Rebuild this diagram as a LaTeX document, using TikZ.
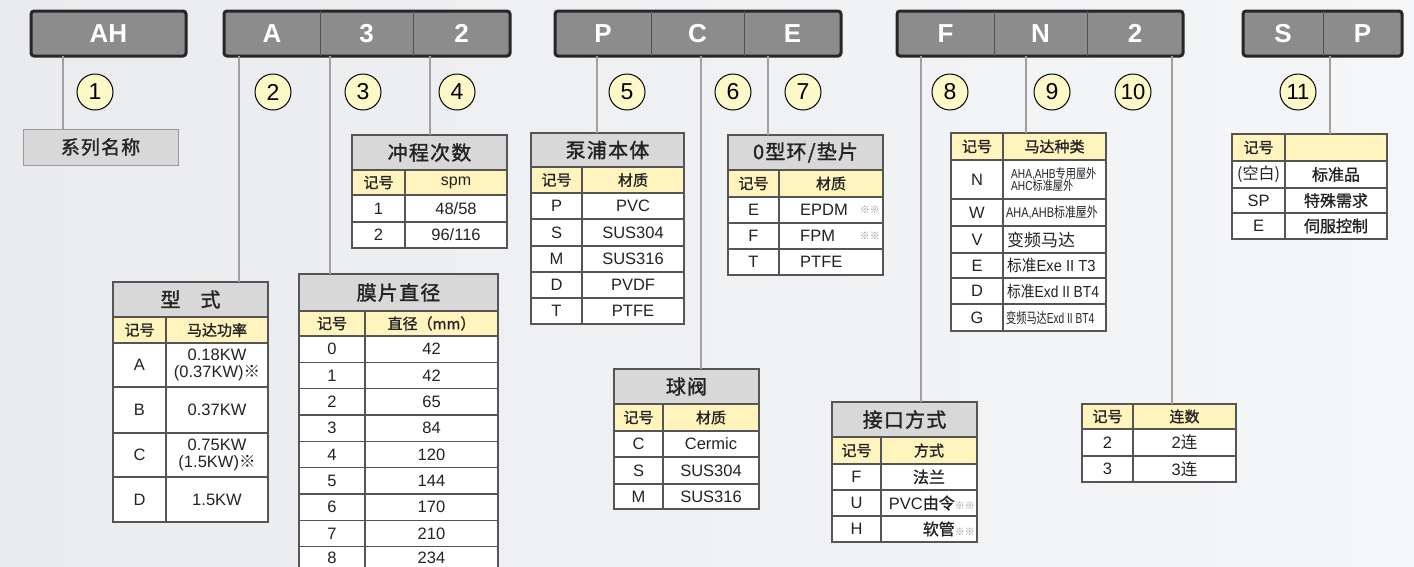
\documentclass[tikz,border=0pt]{standalone}
\usepackage{fontspec}
\setmainfont{Liberation Sans}
\newfontfamily\cjk{Noto Sans CJK SC}
\newfontfamily\cjkm[FakeBold=1.2]{Noto Sans CJK SC}
\newfontfamily\cjkt[FakeBold=1.4,LetterSpace=6]{Noto Sans CJK SC}
\usetikzlibrary{calc}
\definecolor{hbfill}{RGB}{140,140,140}
\definecolor{hbline}{RGB}{38,38,38}
\definecolor{tgray}{RGB}{216,216,216}
\definecolor{hyel}{RGB}{255,244,190}
\definecolor{tline}{RGB}{85,85,85}
\definecolor{connc}{RGB}{160,160,160}
\definecolor{circc}{RGB}{252,248,200}
\definecolor{bgA}{RGB}{233,235,238}
\definecolor{bgB}{RGB}{245,246,248}
\definecolor{txt}{RGB}{35,35,35}
\definecolor{starc}{RGB}{150,150,150}
\newcommand\tcell[7]{\node[#6,minimum width={#4-#2},minimum height={#5-#3}] (#1) at ({(#2+#4)/2},{(#3+#5)/2}) {#7};}
\newcommand\fs[1]{\fontsize{#1}{#1}\selectfont}
\tikzset{
  hbox/.style={draw=hbline,line width=3pt,fill=hbfill,rounded corners=3pt,inner sep=0pt,outer sep=0pt},
  hseg/.style={inner sep=0pt,outer sep=0pt,text=white,font=\fs{26}\bfseries},
  hdiv/.style={draw=hbline!80,line width=0.8pt},
  connl/.style={draw=connc,line width=1.5pt},
  numc/.style={circle,draw=black,line width=1pt,fill=circc,minimum size=36pt,inner sep=0pt,font=\fs{23}},
  sbox/.style={draw=black!40,line width=1pt,fill=tgray,inner sep=0pt,outer sep=0pt,font=\cjkt\fs{19},text=txt},
  tt/.style={draw=tline,line width=1.3pt,fill=tgray,inner sep=0pt,outer sep=0pt,font=\cjkt\fs{20},text=txt},
  hd/.style={draw=tline,line width=1.3pt,fill=hyel,inner sep=0pt,outer sep=0pt,font=\cjkm\fs{15},text=txt},
  bd/.style={draw=tline,line width=1.3pt,fill=white,inner sep=0pt,outer sep=0pt,font=\fs{16.5},text=txt,align=center},
  lt/.style={anchor=west,inner sep=0pt,font=\fs{16.5},text=txt},
  stars/.style={inner sep=0pt,font=\cjk\fs{10},text=starc},
}
\begin{document}
\begin{tikzpicture}[x=1pt,y=-1pt]
\clip (0,0) rectangle (1414,566);
\shade[left color=bgA,right color=bgB] (0,0) rectangle (1414,566);

% ---------- header boxes ----------
\tcell{hb1}{31}{11}{186}{56}{hbox}{}
\tcell{h1a}{31}{11}{186}{56}{hseg}{AH}

\tcell{hb2}{224}{11}{510}{56}{hbox}{}
\tcell{h2a}{224}{11}{320}{56}{hseg}{A}
\tcell{h2b}{320}{11}{413}{56}{hseg}{3}
\tcell{h2c}{413}{11}{510}{56}{hseg}{2}
\draw[hdiv] (h2a.north east) -- (h2a.south east);
\draw[hdiv] (h2b.north east) -- (h2b.south east);

\tcell{hb3}{555}{11}{841}{56}{hbox}{}
\tcell{h3a}{555}{11}{651}{56}{hseg}{P}
\tcell{h3b}{651}{11}{744}{56}{hseg}{C}
\tcell{h3c}{744}{11}{841}{56}{hseg}{E}
\draw[hdiv] (h3a.north east) -- (h3a.south east);
\draw[hdiv] (h3b.north east) -- (h3b.south east);

\tcell{hb4}{897}{11}{1183}{56}{hbox}{}
\tcell{h4a}{897}{11}{994}{56}{hseg}{F}
\tcell{h4b}{994}{11}{1087}{56}{hseg}{N}
\tcell{h4c}{1087}{11}{1183}{56}{hseg}{2}
\draw[hdiv] (h4a.north east) -- (h4a.south east);
\draw[hdiv] (h4b.north east) -- (h4b.south east);

\tcell{hb5}{1243}{11}{1402}{56}{hbox}{}
\tcell{h5a}{1243}{11}{1323}{56}{hseg}{S}
\tcell{h5b}{1323}{11}{1402}{56}{hseg}{P}
\draw[hdiv] (h5a.north east) -- (h5a.south east);

% ---------- number circles ----------
\node[numc] (n1) at (95,92) {1};
\node[numc] (n2) at (273,92) {2};
\node[numc] (n3) at (363,92) {3};
\node[numc] (n4) at (457,92) {4};
\node[numc] (n5) at (627,92) {5};
\node[numc] (n6) at (733,92) {6};
\node[numc] (n7) at (803,92) {7};
\node[numc] (n8) at (950,92) {8};
\node[numc] (n9) at (1052,92) {9};
\node[numc,font=\fs{22}] (n10) at (1133,92) {10};
\node[numc,font=\fs{22}] (n11) at (1298,92) {11};

% ---------- 1 系列名称 ----------
\tcell{t1}{23}{129}{178}{165}{sbox}{系列名称}

% ---------- 4 冲程次数 ----------
\tcell{t4t}{352}{135}{507}{170}{tt}{冲程次数}
\tcell{t4ha}{352}{170}{405}{195}{hd}{记号}
\tcell{t4hb}{405}{170}{507}{195}{hd}{\fontspec{Liberation Sans}\fs{16}spm}
\tcell{t4a1}{352}{195}{405}{222}{bd}{1}
\tcell{t4b1}{405}{195}{507}{222}{bd}{48/58}
\tcell{t4a2}{352}{222}{405}{248}{bd}{2}
\tcell{t4b2}{405}{222}{507}{248}{bd}{96/116}

% ---------- 5 泵浦本体 ----------
\tcell{t5t}{531}{133}{684}{167}{tt}{泵浦本体}
\tcell{t5ha}{531}{167}{582}{193}{hd}{记号}
\tcell{t5hb}{582}{167}{684}{193}{hd}{材质}
\tcell{t5a1}{531}{193}{582}{219}{bd}{P}
\tcell{t5b1}{582}{193}{684}{219}{bd}{PVC}
\tcell{t5a2}{531}{219}{582}{246}{bd}{S}
\tcell{t5b2}{582}{219}{684}{246}{bd}{SUS304}
\tcell{t5a3}{531}{246}{582}{272}{bd}{M}
\tcell{t5b3}{582}{246}{684}{272}{bd}{SUS316}
\tcell{t5a4}{531}{272}{582}{298}{bd}{D}
\tcell{t5b4}{582}{272}{684}{298}{bd}{PVDF}
\tcell{t5a5}{531}{298}{582}{324}{bd}{T}
\tcell{t5b5}{582}{298}{684}{324}{bd}{PTFE}

% ---------- 7 0型环/垫片 ----------
\tcell{t7t}{728}{135}{883}{170}{tt}{0型环/垫片}
\tcell{t7ha}{728}{170}{779}{197}{hd}{记号}
\tcell{t7hb}{779}{170}{883}{197}{hd}{材质}
\tcell{t7a1}{728}{197}{779}{223}{bd}{E}
\tcell{t7b1}{779}{197}{883}{223}{bd}{}
\tcell{t7a2}{728}{223}{779}{249}{bd}{F}
\tcell{t7b2}{779}{223}{883}{249}{bd}{}
\tcell{t7a3}{728}{249}{779}{275}{bd}{T}
\tcell{t7b3}{779}{249}{883}{275}{bd}{}
\node[lt] (t7x1) at ([xshift=21pt]t7b1.west) {EPDM};
\node[lt] (t7x2) at ([xshift=21pt]t7b2.west) {FPM};
\node[lt] (t7x3) at ([xshift=21pt]t7b3.west) {PTFE};
\node[stars,anchor=east] (t7s1) at ([xshift=-3pt]t7b1.east) {※※};
\node[stars,anchor=east] (t7s2) at ([xshift=-3pt]t7b2.east) {※※};

% ---------- 9 马达种类 ----------
\tcell{t9ha}{951}{133}{1003}{160}{hd}{记号}
\tcell{t9hb}{1003}{133}{1106}{160}{hd}{马达种类}
\tcell{t9a1}{951}{160}{1003}{199}{bd}{N}
\tcell{t9b1}{1003}{160}{1106}{199}{bd}{}
\tcell{t9a2}{951}{199}{1003}{226}{bd}{W}
\tcell{t9b2}{1003}{199}{1106}{226}{bd}{}
\tcell{t9a3}{951}{226}{1003}{253}{bd}{V}
\tcell{t9b3}{1003}{226}{1106}{253}{bd}{}
\tcell{t9a4}{951}{253}{1003}{278}{bd}{E}
\tcell{t9b4}{1003}{253}{1106}{278}{bd}{}
\tcell{t9a5}{951}{278}{1003}{304}{bd}{D}
\tcell{t9b5}{1003}{278}{1106}{304}{bd}{}
\tcell{t9a6}{951}{304}{1003}{331}{bd}{G}
\tcell{t9b6}{1003}{304}{1106}{331}{bd}{}
\node[lt,align=left,font=\fs{13}] (t9x1) at ([xshift=8pt]t9b1.west) {\scalebox{0.78}[1]{AHA,AHB{\cjk 专用屋外}}\\[-1pt]\scalebox{0.78}[1]{AHC{\cjk 标准屋外}}};
\node[lt,font=\fs{14}] (t9x2) at ([xshift=3pt]t9b2.west) {\scalebox{0.78}[1]{AHA,AHB{\cjk 标准屋外}}};
\node[lt,font=\cjk\fs{17}] (t9x3) at ([xshift=4pt]t9b3.west) {变频马达};
\node[lt,font=\fs{16}] (t9x4) at ([xshift=4pt]t9b4.west) {\scalebox{0.92}[1]{{\cjk 标准}Exe II T3}};
\node[lt,font=\fs{16}] (t9x5) at ([xshift=4pt]t9b5.west) {\scalebox{0.86}[1]{{\cjk 标准}Exd II BT4}};
\node[lt,font=\fs{14.5}] (t9x6) at ([xshift=3pt]t9b6.west) {\scalebox{0.7}[1]{{\cjk 变频马达}Exd II BT4}};

% ---------- 11 ----------
\tcell{t11ha}{1232}{134}{1285}{161}{hd}{记号}
\tcell{t11hb}{1285}{134}{1387}{161}{hd}{}
\tcell{t11a1}{1232}{161}{1285}{188}{bd}{\cjk\fs{16}(空白)}
\tcell{t11b1}{1285}{161}{1387}{188}{bd}{\cjkm\fs{16}标准品}
\tcell{t11a2}{1232}{188}{1285}{213}{bd}{SP}
\tcell{t11b2}{1285}{188}{1387}{213}{bd}{\cjkm\fs{16}特殊需求}
\tcell{t11a3}{1232}{213}{1285}{239}{bd}{E}
\tcell{t11b3}{1285}{213}{1387}{239}{bd}{\cjkm\fs{16}伺服控制}

% ---------- 2 型式 ----------
\tcell{t2t}{113}{282}{268}{317}{tt}{型\hspace{1em}式}
\tcell{t2ha}{113}{317}{166}{343}{hd}{记号}
\tcell{t2hb}{166}{317}{268}{343}{hd}{马达功率}
\tcell{t2a1}{113}{343}{166}{387}{bd}{A}
\tcell{t2b1}{166}{343}{268}{387}{bd}{0.18KW\\[1pt](0.37KW){\cjk ※}}
\tcell{t2a2}{113}{387}{166}{433}{bd}{B}
\tcell{t2b2}{166}{387}{268}{433}{bd}{0.37KW}
\tcell{t2a3}{113}{433}{166}{477}{bd}{C}
\tcell{t2b3}{166}{433}{268}{477}{bd}{0.75KW\\[1pt](1.5KW){\cjk ※}}
\tcell{t2a4}{113}{477}{166}{522}{bd}{D}
\tcell{t2b4}{166}{477}{268}{522}{bd}{1.5KW}

% ---------- 3 膜片直径 ----------
\tcell{t3t}{299}{274}{498}{311}{tt}{膜片直径}
\tcell{t3ha}{299}{311}{365}{336}{hd}{记号}
\tcell{t3hb}{365}{311}{498}{336}{hd}{直径（mm）}
\foreach \k/\v in {0/42,1/42,2/65,3/84,4/120,5/144,6/170,7/210}{
  \pgfmathsetmacro\ya{336+26.35*\k}
  \pgfmathsetmacro\yb{336+26.35*(\k+1)}
  \tcell{t3a\k}{299}{\ya}{365}{\yb}{bd}{\k}
  \tcell{t3b\k}{365}{\ya}{498}{\yb}{bd}{\v}
}
\tcell{t3a8}{299}{546.8}{365}{575}{bd}{}
\tcell{t3b8}{365}{546.8}{498}{575}{bd}{}
\node[inner sep=0pt,font=\fs{16.5},text=txt] (t3x8a) at (t3a8.center |- 0,558) {8};
\node[inner sep=0pt,font=\fs{16.5},text=txt] (t3x8b) at (t3b8.center |- 0,558) {234};

% ---------- 6 球阀 ----------
\tcell{t6t}{614}{369}{759}{404}{tt}{球阀}
\tcell{t6ha}{614}{404}{663}{431}{hd}{记号}
\tcell{t6hb}{663}{404}{759}{431}{hd}{材质}
\tcell{t6a1}{614}{431}{663}{457}{bd}{C}
\tcell{t6b1}{663}{431}{759}{457}{bd}{Cermic}
\tcell{t6a2}{614}{457}{663}{484}{bd}{S}
\tcell{t6b2}{663}{457}{759}{484}{bd}{SUS304}
\tcell{t6a3}{614}{484}{663}{509}{bd}{M}
\tcell{t6b3}{663}{484}{759}{509}{bd}{SUS316}

% ---------- 8 接口方式 ----------
\tcell{t8t}{832}{402}{977}{437}{tt}{接口方式}
\tcell{t8ha}{832}{437}{881}{464}{hd}{记号}
\tcell{t8hb}{881}{437}{977}{464}{hd}{方式}
\tcell{t8a1}{832}{464}{881}{490}{bd}{F}
\tcell{t8b1}{881}{464}{977}{490}{bd}{\cjkm\fs{16}法兰}
\tcell{t8a2}{832}{490}{881}{516}{bd}{U}
\tcell{t8b2}{881}{490}{977}{516}{bd}{}
\tcell{t8a3}{832}{516}{881}{542}{bd}{H}
\tcell{t8b3}{881}{516}{977}{542}{bd}{}
\node[lt,anchor=east] (t8x2) at ([xshift=-2pt]t8b2.east) {PVC{\cjkm\fs{16}由令}{\cjk\fs{10}\color{starc}※※}};
\node[lt,anchor=east] (t8x3) at ([xshift=-2pt]t8b3.east) {{\cjkm\fs{16}软管}{\cjk\fs{10}\color{starc}※※}};

% ---------- 10 连数 ----------
\tcell{t10ha}{1082}{404}{1133}{429}{hd}{记号}
\tcell{t10hb}{1133}{404}{1236}{429}{hd}{连数}
\tcell{t10a1}{1082}{429}{1133}{456}{bd}{2}
\tcell{t10b1}{1133}{429}{1236}{456}{bd}{2{\cjk 连}}
\tcell{t10a2}{1082}{456}{1133}{482}{bd}{3}
\tcell{t10b2}{1133}{456}{1236}{482}{bd}{3{\cjk 连}}

% ---------- connectors ----------
\coordinate (x1) at (63,0);
\coordinate (x2) at (239,0);
\coordinate (x3) at (330,0);
\coordinate (x4) at (430,0);
\coordinate (x5) at (597,0);
\coordinate (x6) at (701,0);
\coordinate (x7) at (768,0);
\coordinate (x8) at (921,0);
\coordinate (x9) at (1026,0);
\coordinate (x10) at (1172,0);
\coordinate (x11) at (1330,0);
\draw[connl] (hb1.south -| x1) -- (t1.north -| x1);
\draw[connl] (hb2.south -| x2) -- (t2t.north -| x2);
\draw[connl] (hb2.south -| x3) -- (t3t.north -| x3);
\draw[connl] (hb2.south -| x4) -- (t4t.north -| x4);
\draw[connl] (hb3.south -| x5) -- (t5t.north -| x5);
\draw[connl] (hb3.south -| x6) -- (t6t.north -| x6);
\draw[connl] (hb3.south -| x7) -- (t7t.north -| x7);
\draw[connl] (hb4.south -| x8) -- (t8t.north -| x8);
\draw[connl] (hb4.south -| x9) -- (t9hb.north -| x9);
\draw[connl] (hb4.south -| x10) -- (t10hb.north -| x10);
\draw[connl] (hb5.south -| x11) -- (t11hb.north -| x11);
\end{tikzpicture}
\end{document}
